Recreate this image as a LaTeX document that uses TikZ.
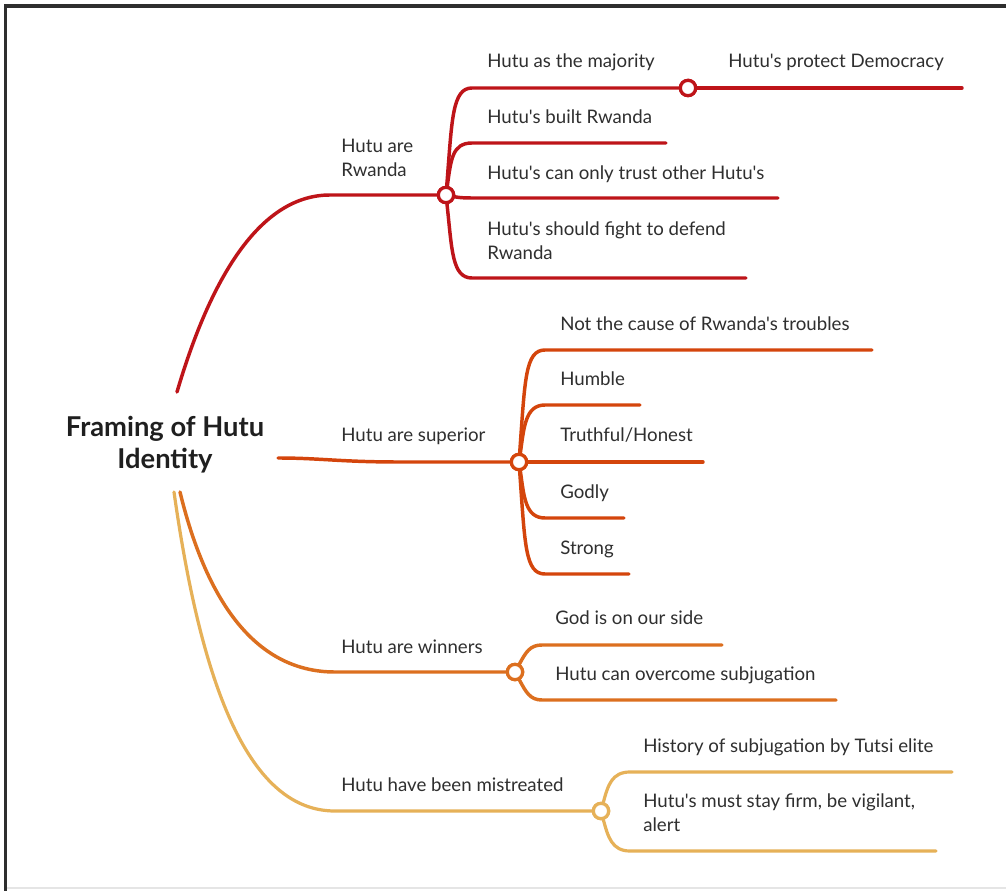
\documentclass[tikz,border=0pt]{standalone}
\usepackage{fontspec}
\setmainfont{Lato}[Ligatures=TeXOff]
\definecolor{cA}{HTML}{BE1419}
\definecolor{cB}{HTML}{D4450C}
\definecolor{cC}{HTML}{DC6F1F}
\definecolor{cD}{HTML}{E6B158}
\definecolor{txt}{HTML}{2F2F2F}
\definecolor{frame}{HTML}{2E2E2E}
\begin{document}
\begin{tikzpicture}[x=0.75pt,y=-0.75pt,
  lbl/.style={anchor=west,inner sep=0pt,text=txt,font=\fontsize{14}{18}\selectfont,text height=11pt,text depth=0pt},
  lbltwo/.style={anchor=west,inner sep=0pt,text=txt,font=\fontsize{14}{18}\selectfont,align=left},
  title/.style={inner sep=0pt,text=black!88,font=\bfseries\fontsize{20.5}{24}\selectfont,align=center},
  hub/.style={circle,draw,fill=white,line width=2.4pt,minimum size=11.5pt,inner sep=0pt},
  br/.style={line width=2.6pt,line cap=round},
  brthin/.style={line width=2.4pt,line cap=round}]
\useasboundingbox (0,0) rectangle (1006,891);
\fill[white] (0,0) rectangle (1006,891);
% frame
\draw[black!10,line width=1pt] (6,888) -- (1006,888);
\draw[frame,line width=2.4pt] (5.5,891) -- (5.5,6) -- (1006,6);

% root
\node[title] (root) at (165,445) {Framing of Hutu\\Identity};
\coordinate (r1) at (177,392);
\coordinate (r2) at (278,458);
\coordinate (r3) at (180,492);
\coordinate (r4) at (174,492);

% hubs
\node[hub,draw=cA] (h1) at (446,195) {};
\node[hub,draw=cA] (h2) at (688,88) {};
\node[hub,draw=cB] (h3) at (519,462) {};
\node[hub,draw=cC] (h4) at (515,672) {};
\node[hub,draw=cD] (h5) at (601,811) {};

% end points
\coordinate (e1) at (962,88);
\coordinate (e2) at (666,143);
\coordinate (e3) at (778,198);
\coordinate (e4) at (746,278);
\coordinate (e5) at (872,350);
\coordinate (e6) at (640,405);
\coordinate (e7) at (703,462);
\coordinate (e8) at (624,518);
\coordinate (e9) at (629,574);
\coordinate (e10) at (722,645);
\coordinate (e11) at (836,700);
\coordinate (e12) at (952,772);
\coordinate (e13) at (936,851);

% main branches
\draw[br,cA] (r1) .. controls (207,290) and (255,195) .. (330,195) -- (h1);
\draw[br,cB] (r2) .. controls (320,458) and (340,462) .. (400,462) -- (h3);
\draw[br,cC] (r3) .. controls (205,595) and (252,672) .. (335,672) -- (h4);
\draw[brthin,cD] (r4) .. controls (202,690) and (250,811) .. (335,811) -- (h5);

% branch 1 children
\draw[br,cA] (h1) .. controls (452,120) and (452,88) .. (472,88) -- (h2);
\draw[br,cA] (h2) -- (e1);
\draw[br,cA] (h1) .. controls (451,160) and (452,143) .. (472,143) -- (e2);
\draw[br,cA] (h1) .. controls (456,197) and (460,198) .. (472,198) -- (e3);
\draw[br,cA] (h1) .. controls (452,250) and (452,278) .. (472,278) -- (e4);

% branch 2 children
\draw[br,cB] (h3) .. controls (525,380) and (525,350) .. (545,350) -- (e5);
\draw[br,cB] (h3) .. controls (524,428) and (525,405) .. (545,405) -- (e6);
\draw[br,cB] (h3) -- (e7);
\draw[br,cB] (h3) .. controls (524,496) and (525,518) .. (545,518) -- (e8);
\draw[br,cB] (h3) .. controls (525,545) and (525,574) .. (545,574) -- (e9);

% branch 3 children
\draw[br,cC] (h4) .. controls (526,652) and (530,645) .. (542,645) -- (e10);
\draw[br,cC] (h4) .. controls (526,692) and (530,700) .. (542,700) -- (e11);

% branch 4 children
\draw[brthin,cD] (h5) .. controls (608,785) and (612,772) .. (630,772) -- (e12);
\draw[brthin,cD] (h5) .. controls (608,837) and (612,851) .. (630,851) -- (e13);

% redraw hubs on top
\node[hub,draw=cA] at (h1) {};
\node[hub,draw=cA] at (h2) {};
\node[hub,draw=cB] at (h3) {};
\node[hub,draw=cC] at (h4) {};
\node[hub,draw=cD] at (h5) {};

% labels
\node[lbltwo] (l1) at (341,158) {Hutu are\\Rwanda};
\node[lbl] (l11) at (487,60) {Hutu as the majority};
\node[lbl] (l111) at (728,60) {Hutu's protect Democracy};
\node[lbl] (l12) at (487,116) {Hutu's built Rwanda};
\node[lbl] (l13) at (487,172) {Hutu's can only trust other Hutu's};
\node[lbltwo] (l14) at (487,241) {Hutu's should fight to defend\\Rwanda};

\node[lbl] (l2) at (341,434) {Hutu are superior};
\node[lbl] (l21) at (560,323) {Not the cause of Rwanda's troubles};
\node[lbl] (l22) at (560,378) {Humble};
\node[lbl] (l23) at (560,434) {Truthful/Honest};
\node[lbl] (l24) at (560,491) {Godly};
\node[lbl] (l25) at (560,547) {Strong};

\node[lbl] (l3) at (341,646) {Hutu are winners};
\node[lbl] (l31) at (555,617) {God is on our side};
\node[lbl] (l32) at (555,673) {Hutu can overcome subjugation};

\node[lbl] (l4) at (341,784) {Hutu have been mistreated};
\node[lbl] (l41) at (643,745) {History of subjugation by Tutsi elite};
\node[lbltwo] (l42) at (643,813) {Hutu's must stay firm, be vigilant,\\alert};
\end{tikzpicture}
\end{document}
